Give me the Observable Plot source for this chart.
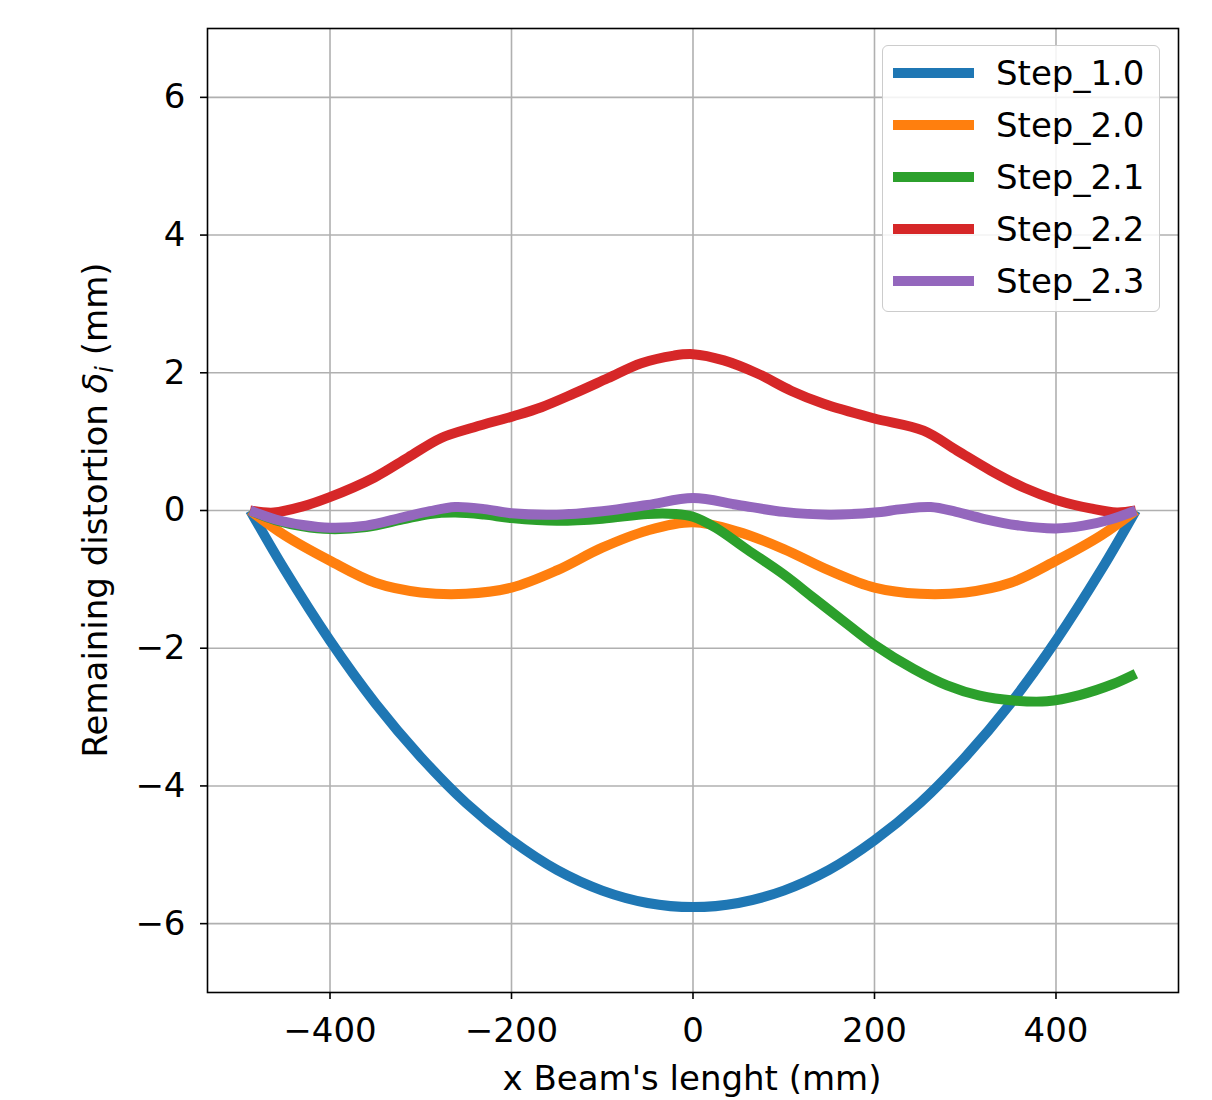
<!DOCTYPE html>
<html>
<head>
<meta charset="utf-8">
<script src="https://cdn.jsdelivr.net/npm/d3@7"></script>
<script src="https://cdn.jsdelivr.net/npm/@observablehq/plot@0.6"></script>
<style>
  body { margin: 0; background: white; }
  #wrap { position: relative; width: 1212px; height: 1100px; font-family: "DejaVu Sans", sans-serif; }
  #legend { position: absolute; left: 882px; top: 45px; width: 276px; height: 265px;
    border: 1.5px solid #cccccc; border-radius: 6px; background: rgba(255,255,255,0.85); }
  .item { position: absolute; left: 0; height: 40px; width: 276px; }
  .swatch { position: absolute; left: 10px; width: 81px; height: 10px; }
  .lab { position: absolute; left: 113px; font-size: 34px; line-height: 40px; color: #000; white-space: nowrap; }
</style>
</head>
<body>
<div id="wrap"></div>
<script>
// ---- data ----
const seriesNames = ["Step_1.0", "Step_2.0", "Step_2.1", "Step_2.2", "Step_2.3"];
const seriesColors = ["#1f77b4", "#ff7f0e", "#2ca02c", "#d62728", "#9467bd"];

const xCommon = [-488,-450,-400,-350,-300,-250,-200,-150,-100,-50,0,50,100,150,200,250,300,350,400,450,488];
const step10 = [0,-0.86,-1.89,-2.80,-3.58,-4.25,-4.79,-5.22,-5.52,-5.70,-5.76,-5.70,-5.52,-5.22,-4.79,-4.25,-3.58,-2.80,-1.89,-0.86,0];
const step20 = [0,-0.36,-0.73,-1.05,-1.19,-1.21,-1.12,-0.87,-0.54,-0.29,-0.17,-0.31,-0.56,-0.87,-1.12,-1.21,-1.19,-1.05,-0.73,-0.36,0];

const xStep21 = [-488,-460,-430,-400,-360,-320,-290,-262,-230,-200,-150,-100,-50,-20,0,25,60,100,133,170,200,243,280,316,353,390,426,463,488];
const step21 = [0,-0.14,-0.23,-0.27,-0.24,-0.13,-0.05,-0.03,-0.06,-0.11,-0.15,-0.12,-0.05,-0.05,-0.09,-0.25,-0.57,-0.93,-1.27,-1.65,-1.95,-2.30,-2.54,-2.69,-2.76,-2.77,-2.68,-2.52,-2.37];

const xStep22 = [-488,-462,-430,-401,-351,-314,-278,-241,-198,-167,-131,-94,-57,-21,0,34,71,108,144,199,254,291,328,365,401,438,467,488];
const step22 = [0,-0.03,0.06,0.19,0.48,0.77,1.05,1.21,1.37,1.50,1.70,1.92,2.14,2.25,2.27,2.18,1.99,1.74,1.55,1.34,1.16,0.87,0.58,0.33,0.15,0.03,-0.03,0];

const xStep23 = [-488,-460,-430,-400,-360,-320,-290,-262,-230,-200,-150,-100,-50,0,50,100,150,200,230,262,290,320,360,400,430,460,488];
const step23 = [0,-0.13,-0.21,-0.25,-0.22,-0.10,-0.01,0.05,0.02,-0.04,-0.06,-0.01,0.08,0.18,0.08,-0.02,-0.06,-0.03,0.02,0.05,-0.02,-0.12,-0.22,-0.26,-0.22,-0.13,0];

const xTicks = [-400,-200,0,200,400];
const yTicks = [-6,-4,-2,0,2,4,6];
const xLabel = "x Beam's lenght (mm)";

// ---- build table ----
const pairs = [[xCommon, step10], [xCommon, step20], [xStep21, step21], [xStep22, step22], [xStep23, step23]];
const rows = [];
pairs.forEach(([xs, ys], i) => xs.forEach((x, j) => rows.push({x, y: ys[j], s: seriesNames[i]})));

const fmt = d => d < 0 ? "\u2212" + Math.abs(d) : String(d);
const W = 1212, H = 1100;

const chart = Plot.plot({
  width: W, height: H,
  marginLeft: 207, marginRight: 34, marginTop: 28, marginBottom: 108,
  x: {domain: [-535, 535]},
  y: {domain: [-7, 7]},
  color: {domain: seriesNames, range: seriesColors},
  style: {fontFamily: "DejaVu Sans", fontSize: "34px", color: "black", background: "white", overflow: "visible"},
  marks: [
    Plot.gridX(xTicks, {stroke: "#b0b0b0", strokeOpacity: 1, strokeWidth: 1.6}),
    Plot.gridY(yTicks, {stroke: "#b0b0b0", strokeOpacity: 1, strokeWidth: 1.6}),
    ...seriesNames.map(n => Plot.line(rows.filter(r => r.s === n), {
      x: "x", y: "y", stroke: "s", strokeWidth: 10, curve: "catmull-rom", strokeLinecap: "butt", strokeLinejoin: "round"
    })),
    Plot.frame({stroke: "black", strokeWidth: 1.6}),
    Plot.axisX(xTicks, {tickSize: 7, tickPadding: 18, tickFormat: fmt, label: null, strokeWidth: 1.6}),
    Plot.axisY(yTicks, {tickSize: 7, tickPadding: 15, tickFormat: fmt, label: null, strokeWidth: 1.6})
  ]
});

const svg = d3.select(chart);
svg.append("text")
  .attr("x", 692).attr("y", 1090)
  .attr("text-anchor", "middle")
  .attr("font-size", 34)
  .attr("fill", "black")
  .text(xLabel);

const yl = svg.append("text")
  .attr("transform", "translate(107,510) rotate(-90)")
  .attr("text-anchor", "middle")
  .attr("font-size", 34)
  .attr("fill", "black");
yl.append("tspan").text("Remaining distortion ");
yl.append("tspan").attr("font-style", "italic").text("\u03B4");
yl.append("tspan").attr("font-style", "italic").attr("font-size", 24).attr("dy", 6).text("i");
yl.append("tspan").attr("dy", -6).text(" (mm)");

const wrap = document.getElementById("wrap");
wrap.appendChild(chart);

// legend
const leg = document.createElement("div");
leg.id = "legend";
seriesNames.forEach((n, i) => {
  const it = document.createElement("div");
  it.className = "item";
  it.style.top = (7 + i * 52) + "px";
  const sw = document.createElement("div");
  sw.className = "swatch";
  sw.style.top = "15px";
  sw.style.background = seriesColors[i];
  const lb = document.createElement("div");
  lb.className = "lab";
  lb.textContent = n;
  it.appendChild(sw); it.appendChild(lb);
  leg.appendChild(it);
});
wrap.appendChild(leg);
</script>
</body>
</html>
